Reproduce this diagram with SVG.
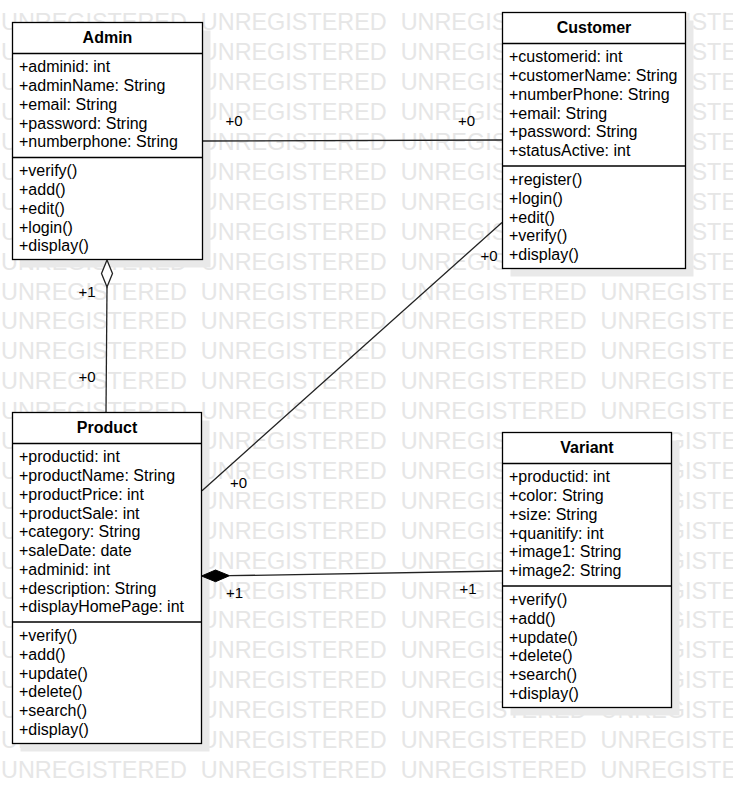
<svg xmlns="http://www.w3.org/2000/svg" width="733" height="793" viewBox="0 0 733 793">
<style>
.wm{font-family:"Liberation Sans",Arial,sans-serif;font-size:23.4px;fill:#e6e6e6;word-spacing:7.5px}
.box{fill:#fff;stroke:#000;stroke-width:1.3}
.sh{fill:#e9e9e9}
.sep{stroke:#000;stroke-width:1.3}
.t{font-family:"Liberation Sans",Arial,sans-serif;font-size:16px;fill:#000}
.h{font-family:"Liberation Sans",Arial,sans-serif;font-size:16px;font-weight:bold;fill:#000;text-anchor:middle}
.lbl{font-family:"Liberation Sans",Arial,sans-serif;font-size:15px;fill:#000}
.ln{stroke:#222;stroke-width:1.3;fill:none}
</style>
<rect width="733" height="793" fill="#fff"/>
<g id="watermark">
<text class="wm" x="1" y="30.4">UNREGISTERED UNREGISTERED UNREGISTERED UNREGISTERED</text>
<text class="wm" x="1" y="60.3">UNREGISTERED UNREGISTERED UNREGISTERED UNREGISTERED</text>
<text class="wm" x="1" y="90.2">UNREGISTERED UNREGISTERED UNREGISTERED UNREGISTERED</text>
<text class="wm" x="1" y="120.1">UNREGISTERED UNREGISTERED UNREGISTERED UNREGISTERED</text>
<text class="wm" x="1" y="150">UNREGISTERED UNREGISTERED UNREGISTERED UNREGISTERED</text>
<text class="wm" x="1" y="179.9">UNREGISTERED UNREGISTERED UNREGISTERED UNREGISTERED</text>
<text class="wm" x="1" y="209.8">UNREGISTERED UNREGISTERED UNREGISTERED UNREGISTERED</text>
<text class="wm" x="1" y="239.7">UNREGISTERED UNREGISTERED UNREGISTERED UNREGISTERED</text>
<text class="wm" x="1" y="269.6">UNREGISTERED UNREGISTERED UNREGISTERED UNREGISTERED</text>
<text class="wm" x="1" y="299.5">UNREGISTERED UNREGISTERED UNREGISTERED UNREGISTERED</text>
<text class="wm" x="1" y="329.4">UNREGISTERED UNREGISTERED UNREGISTERED UNREGISTERED</text>
<text class="wm" x="1" y="359.3">UNREGISTERED UNREGISTERED UNREGISTERED UNREGISTERED</text>
<text class="wm" x="1" y="389.2">UNREGISTERED UNREGISTERED UNREGISTERED UNREGISTERED</text>
<text class="wm" x="1" y="419.1">UNREGISTERED UNREGISTERED UNREGISTERED UNREGISTERED</text>
<text class="wm" x="1" y="449">UNREGISTERED UNREGISTERED UNREGISTERED UNREGISTERED</text>
<text class="wm" x="1" y="478.9">UNREGISTERED UNREGISTERED UNREGISTERED UNREGISTERED</text>
<text class="wm" x="1" y="508.8">UNREGISTERED UNREGISTERED UNREGISTERED UNREGISTERED</text>
<text class="wm" x="1" y="538.7">UNREGISTERED UNREGISTERED UNREGISTERED UNREGISTERED</text>
<text class="wm" x="1" y="568.6">UNREGISTERED UNREGISTERED UNREGISTERED UNREGISTERED</text>
<text class="wm" x="1" y="598.5">UNREGISTERED UNREGISTERED UNREGISTERED UNREGISTERED</text>
<text class="wm" x="1" y="628.4">UNREGISTERED UNREGISTERED UNREGISTERED UNREGISTERED</text>
<text class="wm" x="1" y="658.3">UNREGISTERED UNREGISTERED UNREGISTERED UNREGISTERED</text>
<text class="wm" x="1" y="688.2">UNREGISTERED UNREGISTERED UNREGISTERED UNREGISTERED</text>
<text class="wm" x="1" y="718.1">UNREGISTERED UNREGISTERED UNREGISTERED UNREGISTERED</text>
<text class="wm" x="1" y="748">UNREGISTERED UNREGISTERED UNREGISTERED UNREGISTERED</text>
<text class="wm" x="1" y="777.9">UNREGISTERED UNREGISTERED UNREGISTERED UNREGISTERED</text>
</g>
<g id="shadows">
<rect class="sh" x="20.5" y="30.5" width="190" height="237"/>
<rect class="sh" x="510.5" y="20.5" width="183" height="256"/>
<rect class="sh" x="20.5" y="420.5" width="189" height="331"/>
<rect class="sh" x="510.5" y="440.5" width="169" height="275"/>
</g>
<g id="connectors">
<line class="ln" x1="202" y1="141" x2="502" y2="140"/>
<line class="ln" x1="502" y1="222.5" x2="202" y2="490.7"/>
<line class="ln" x1="107" y1="287" x2="106" y2="412"/>
<path d="M107,260 L112.5,273.5 L107,287 L101.5,273.5 Z" fill="#fff" stroke="#222" stroke-width="1.3"/>
<line class="ln" x1="229.5" y1="575.7" x2="502" y2="571"/>
<path d="M201.5,576 L215.5,570 L229.5,575.7 L215.5,581.7 Z" fill="#000" stroke="#000" stroke-width="1"/>
<text class="lbl" x="225.5" y="126">+0</text>
<text class="lbl" x="458" y="126">+0</text>
<text class="lbl" x="480.5" y="261">+0</text>
<text class="lbl" x="230" y="487.5">+0</text>
<text class="lbl" x="78.5" y="297">+1</text>
<text class="lbl" x="78.5" y="382">+0</text>
<text class="lbl" x="226" y="598">+1</text>
<text class="lbl" x="459.5" y="594">+1</text>
</g>
<g id="Admin">
<rect class="box" x="12.5" y="22.5" width="190" height="237"/>
<line class="sep" x1="12.5" y1="53.5" x2="202.5" y2="53.5"/>
<line class="sep" x1="12.5" y1="157.5" x2="202.5" y2="157.5"/>
<text class="h" x="107.5" y="43.2">Admin</text>
<text class="t" x="19" y="72.3">+adminid: int</text>
<text class="t" x="19" y="91">+adminName: String</text>
<text class="t" x="19" y="109.8">+email: String</text>
<text class="t" x="19" y="128.5">+password: String</text>
<text class="t" x="19" y="147.3">+numberphone: String</text>
<text class="t" x="19" y="176.3">+verify()</text>
<text class="t" x="19" y="195">+add()</text>
<text class="t" x="19" y="213.8">+edit()</text>
<text class="t" x="19" y="232.5">+login()</text>
<text class="t" x="19" y="251.3">+display()</text>
</g>
<g id="Customer">
<rect class="box" x="502.5" y="12.5" width="183" height="256"/>
<line class="sep" x1="502.5" y1="43.5" x2="685.5" y2="43.5"/>
<line class="sep" x1="502.5" y1="166" x2="685.5" y2="166"/>
<text class="h" x="594" y="33.2">Customer</text>
<text class="t" x="509" y="62.3">+customerid: int</text>
<text class="t" x="509" y="81">+customerName: String</text>
<text class="t" x="509" y="99.8">+numberPhone: String</text>
<text class="t" x="509" y="118.5">+email: String</text>
<text class="t" x="509" y="137.3">+password: String</text>
<text class="t" x="509" y="156">+statusActive: int</text>
<text class="t" x="509" y="185">+register()</text>
<text class="t" x="509" y="203.8">+login()</text>
<text class="t" x="509" y="222.5">+edit()</text>
<text class="t" x="509" y="241.3">+verify()</text>
<text class="t" x="509" y="260">+display()</text>
</g>
<g id="Product">
<rect class="box" x="12.5" y="412.5" width="189" height="331"/>
<line class="sep" x1="12.5" y1="443.5" x2="201.5" y2="443.5"/>
<line class="sep" x1="12.5" y1="622" x2="201.5" y2="622"/>
<text class="h" x="107" y="433.2">Product</text>
<text class="t" x="19" y="462.3">+productid: int</text>
<text class="t" x="19" y="481">+productName: String</text>
<text class="t" x="19" y="499.8">+productPrice: int</text>
<text class="t" x="19" y="518.5">+productSale: int</text>
<text class="t" x="19" y="537.3">+category: String</text>
<text class="t" x="19" y="556">+saleDate: date</text>
<text class="t" x="19" y="574.8">+adminid: int</text>
<text class="t" x="19" y="593.5">+description: String</text>
<text class="t" x="19" y="612.3">+displayHomePage: int</text>
<text class="t" x="19" y="641">+verify()</text>
<text class="t" x="19" y="659.8">+add()</text>
<text class="t" x="19" y="678.5">+update()</text>
<text class="t" x="19" y="697.3">+delete()</text>
<text class="t" x="19" y="716">+search()</text>
<text class="t" x="19" y="734.8">+display()</text>
</g>
<g id="Variant">
<rect class="box" x="502.5" y="432.5" width="169" height="275"/>
<line class="sep" x1="502.5" y1="463.5" x2="671.5" y2="463.5"/>
<line class="sep" x1="502.5" y1="586" x2="671.5" y2="586"/>
<text class="h" x="587" y="453.2">Variant</text>
<text class="t" x="509" y="482.3">+productid: int</text>
<text class="t" x="509" y="501">+color: String</text>
<text class="t" x="509" y="519.8">+size: String</text>
<text class="t" x="509" y="538.5">+quanitify: int</text>
<text class="t" x="509" y="557.3">+image1: String</text>
<text class="t" x="509" y="576">+image2: String</text>
<text class="t" x="509" y="605">+verify()</text>
<text class="t" x="509" y="623.8">+add()</text>
<text class="t" x="509" y="642.5">+update()</text>
<text class="t" x="509" y="661.3">+delete()</text>
<text class="t" x="509" y="680">+search()</text>
<text class="t" x="509" y="698.8">+display()</text>
</g>
</svg>
